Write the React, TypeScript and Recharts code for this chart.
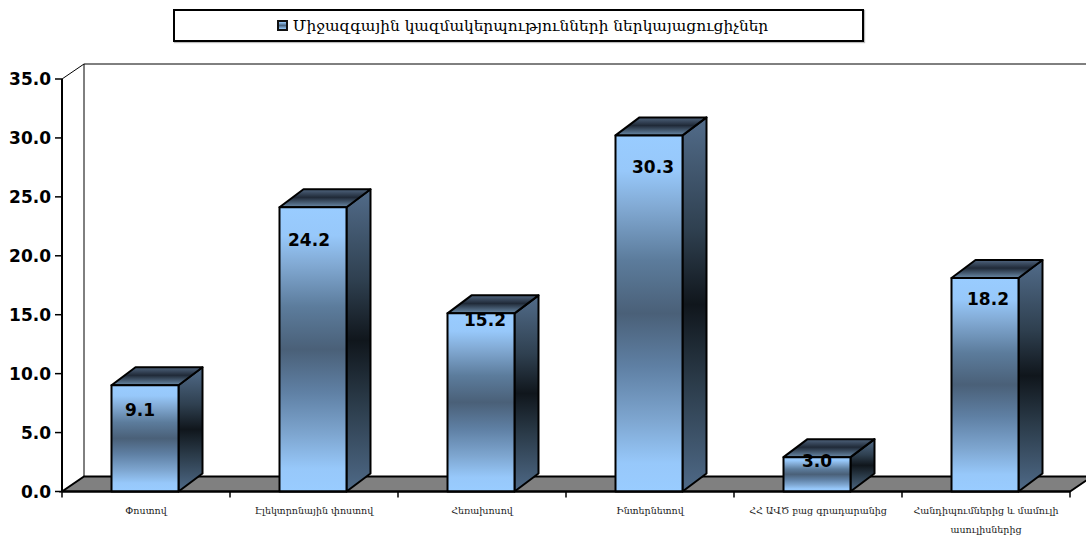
import React from "react";
import { ComposedChart, Bar, XAxis, YAxis, Legend, LabelList } from "recharts";

const categories = ["Փոստով", "Էլեկտրոնային փոստով", "Հեռախոսով", "Ինտերնետով", "ՀՀ ԱՎԾ բաց գրադարանից", "Հանդիպումներից և մամուլի ասուլիսներից"];
const categoryLines = [["Փոստով"], ["Էլեկտրոնային փոստով"], ["Հեռախոսով"], ["Ինտերնետով"], ["ՀՀ ԱՎԾ բաց գրադարանից"], ["Հանդիպումներից և մամուլի", "ասուլիսներից"]];
const values = [9.1, 24.2, 15.2, 30.3, 3.0, 18.2];
const yTicks = [0, 5, 10, 15, 20, 25, 30, 35];
const seriesName = "Միջազգային կազմակերպությունների ներկայացուցիչներ";
const rows = categories.map((name, i) => ({ name, value: values[i] }));

const W = 1086, H = 536;
const M = { top: 79, right: 16, bottom: 44.5, left: 62 };
const DEPTH_X = 24, DEPTH_Y = 18, WALL_X = 22, WALL_Y = 15;
const BAR_NUDGE = -1.5;
const TOP_NUDGE = 1;
const labelShiftX = [-5, -4, 4, 4, 0, 3];
const labelDrop = [26, 34, 8, 33, 5, 22];
const FONT = "'DejaVu Sans', sans-serif";
const SERIF = "'DejaVu Serif', serif";

function Wall() {
  const l = M.left, r = W - M.right, t = M.top, b = H - M.bottom;
  return (
    <g>
      <polygon points={`${l},${b} ${l + WALL_X},${b - WALL_Y} ${r + WALL_X},${b - WALL_Y} ${r},${b}`} fill="#808080" stroke="#000" strokeWidth={2} />
      <polyline points={`${l},${t} ${l + WALL_X},${t - WALL_Y} ${W},${t - WALL_Y}`} fill="none" stroke="#000" strokeWidth={1} />
      <line x1={l + WALL_X} y1={t - WALL_Y} x2={l + WALL_X} y2={b - WALL_Y} stroke="#000" strokeWidth={1} />
    </g>
  );
}

function Box(props: any) {
  const { width, height } = props;
  const x = props.x + BAR_NUDGE;
  const y = props.y + TOP_NUDGE;
  const r = x + width, b = props.y + height;
  return (
    <g stroke="#000" strokeWidth={2} strokeLinejoin="round">
      <polygon points={`${r},${y} ${r + DEPTH_X},${y - DEPTH_Y} ${r + DEPTH_X},${b - DEPTH_Y} ${r},${b}`} fill="url(#sideGrad)" />
      <polygon points={`${x},${y} ${x + DEPTH_X},${y - DEPTH_Y} ${r + DEPTH_X},${y - DEPTH_Y} ${r},${y}`} fill="url(#topGrad)" />
      <rect x={x} y={y} width={width} height={b - y} fill="url(#frontGrad)" />
    </g>
  );
}

function BarLabel(props: any) {
  const { x, y, width, value, index } = props;
  return (
    <text x={x + width / 2 + labelShiftX[index] + BAR_NUDGE} y={y + labelDrop[index]} textAnchor="middle" dominantBaseline="central"
      fontFamily={FONT} fontWeight={700} fontSize={17} fill="#000">
      {Number(value).toFixed(1)}
    </text>
  );
}

function CategoryTick(props: any) {
  const { x, index, width, visibleTicksCount } = props;
  const band = width / visibleTicksCount;
  const top = H - M.bottom;
  return (
    <g>
      <line x1={x - band / 2} x2={x - band / 2} y1={top} y2={top + 6} stroke="#000" strokeWidth={1.5} />
      {index === visibleTicksCount - 1 && <line x1={x + band / 2} x2={x + band / 2} y1={top} y2={top + 6} stroke="#000" strokeWidth={1.5} />}
      <text x={x} y={top + 22} textAnchor="middle" fontFamily={SERIF} fontSize={9.5} fill="#222">
        {categoryLines[index].map((line, i) => (
          <tspan key={i} x={x} dy={i === 0 ? 0 : 19}>{line}</tspan>
        ))}
      </text>
    </g>
  );
}

function LegendBox() {
  return (
    <div style={{ boxSizing: "border-box", width: 691, height: 33, paddingLeft: 8, border: "2px solid #000", background: "#fff", boxShadow: "1px 1px 1px #bbb", display: "flex", alignItems: "center", justifyContent: "center", gap: 5 }}>
      <span style={{ display: "inline-block", boxSizing: "border-box", width: 11, height: 11, border: "2px solid #111", background: "linear-gradient(#99ccff,#4a6580 50%,#99ccff)" }} />
      <span style={{ fontFamily: SERIF, fontSize: 15.4, color: "#000", whiteSpace: "nowrap" }}>{seriesName}</span>
    </div>
  );
}

export default function App() {
  return (
    <div style={{ position: "absolute", left: 0, top: 0, width: W, height: H, overflow: "hidden", background: "#fff" }}>
      <ComposedChart width={W} height={H} data={rows} margin={{ top: M.top, right: M.right, bottom: 0, left: 0 }}>
        <defs>
          <linearGradient id="frontGrad" x1="0" y1="0" x2="0" y2="1">
            <stop offset="0" stopColor="#99ccff" />
            <stop offset="0.1" stopColor="#97c8fa" />
            <stop offset="0.2" stopColor="#82aad4" />
            <stop offset="0.35" stopColor="#5c7c9c" />
            <stop offset="0.5" stopColor="#4a6078" />
            <stop offset="0.65" stopColor="#5f80a4" />
            <stop offset="0.8" stopColor="#7ea6d0" />
            <stop offset="0.92" stopColor="#97c8fa" />
            <stop offset="1" stopColor="#99ccff" />
          </linearGradient>
          <linearGradient id="sideGrad" x1="0" y1="0" x2="0" y2="1">
            <stop offset="0" stopColor="#526c8a" />
            <stop offset="0.3" stopColor="#2f4050" />
            <stop offset="0.5" stopColor="#10161c" />
            <stop offset="0.7" stopColor="#2a3a48" />
            <stop offset="1" stopColor="#4f6a88" />
          </linearGradient>
          <linearGradient id="topGrad" x1="0" y1="0" x2="0" y2="1">
            <stop offset="0" stopColor="#50657f" />
            <stop offset="0.45" stopColor="#202a38" />
            <stop offset="1" stopColor="#6a8aa8" />
          </linearGradient>
        </defs>
        <Wall />
        <XAxis dataKey="name" interval={0} tick={<CategoryTick />} tickLine={false} axisLine={{ stroke: "#000", strokeWidth: 2 }} height={M.bottom} />
        <YAxis width={M.left} domain={[0, 35]} ticks={yTicks} tickFormatter={(v: number) => v.toFixed(1)} interval={0}
          axisLine={{ stroke: "#000", strokeWidth: 2 }} tickLine={{ stroke: "#000", strokeWidth: 1.5 }} tickSize={7}
          tick={{ fontFamily: FONT, fontWeight: 700, fontSize: 17, fill: "#000" }} tickMargin={4} />
        <Legend verticalAlign="middle" layout="horizontal" content={<LegendBox />}
          wrapperStyle={{ position: "absolute", left: 173, top: 9, width: 691, height: 33 }} />
        <Bar dataKey="value" name={seriesName} barSize={67} shape={<Box />} isAnimationActive={false}>
          <LabelList dataKey="value" content={<BarLabel />} />
        </Bar>
      </ComposedChart>
    </div>
  );
}
